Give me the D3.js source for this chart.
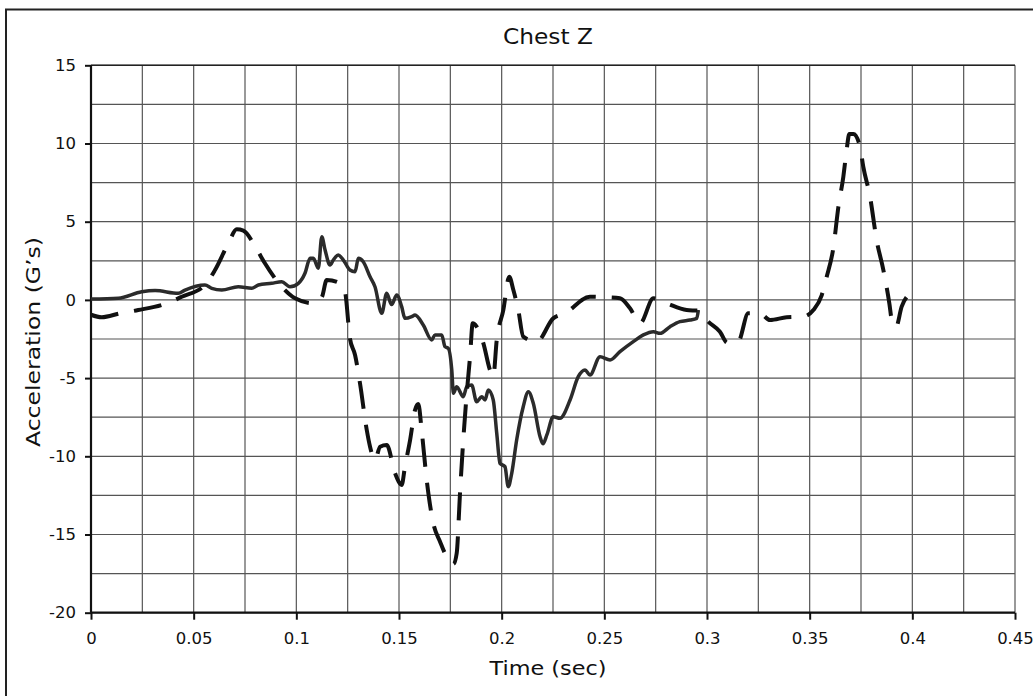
<!DOCTYPE html>
<html><head><meta charset="utf-8">
<script src="https://cdn.jsdelivr.net/npm/d3@7"></script>
<style>body{margin:0;background:#fff}svg{display:block}text{font-family:"DejaVu Sans",Arial,sans-serif;fill:#111}</style>
</head><body><svg id="c" width="1033" height="696"></svg>
<script>
const title = "Chest Z";
const xLabel = "Time (sec)";
const yLabel = "Acceleration (G\u2019s)";
const xTicks = [0,0.05,0.1,0.15,0.2,0.25,0.3,0.35,0.4,0.45];
const yTicks = [15,10,5,0,-5,-10,-15,-20];

const solidT = [0,0.0133,0.0247,0.0312,0.0425,0.0458,0.0555,0.0588,0.0637,0.0717,0.0783,0.0815,0.0880,0.0929,0.0969,0.1010,0.1042,0.1067,0.1083,0.1107,0.1124,0.1140,0.1164,0.1180,0.1204,0.1229,0.1261,0.1286,0.1302,0.1326,0.1359,0.1383,0.1416,0.1440,0.1464,0.1489,0.1513,0.1529,0.1562,0.1578,0.1618,0.1659,0.1675,0.1708,0.1724,0.1740,0.1757,0.1765,0.1781,0.1813,0.1830,0.1854,0.1878,0.1903,0.1919,0.1935,0.1959,0.1976,0.1992,0.2016,0.2032,0.2049,0.2073,0.2105,0.2130,0.2154,0.2187,0.2201,0.2221,0.2251,0.2284,0.2333,0.2373,0.2406,0.2430,0.2479,0.2528,0.2576,0.2641,0.2690,0.2739,0.2771,0.2820,0.2868,0.2917,0.2950,0.2958];
const solidG = [0.05,0.1,0.52,0.6,0.42,0.63,0.95,0.74,0.63,0.84,0.74,0.95,1.06,1.16,0.84,1.06,1.7,2.66,2.66,2.02,4.04,3.19,2.23,2.55,2.87,2.55,1.91,1.8,2.66,2.44,1.48,0.84,-0.86,0.42,-0.3,0.31,-0.43,-1.18,-1.07,-0.97,-1.6,-2.56,-2.24,-2.24,-2.99,-3.1,-4.48,-5.97,-5.55,-6.19,-5.55,-5.44,-6.51,-6.19,-6.4,-5.76,-6.4,-8.53,-10.45,-10.66,-11.94,-11.09,-8.96,-6.83,-5.87,-6.61,-8.75,-9.2,-8.6,-7.47,-7.57,-6.4,-4.91,-4.48,-4.8,-3.63,-3.84,-3.31,-2.67,-2.24,-2.03,-2.14,-1.71,-1.39,-1.29,-1.18,-0.65];

const dashT = [0,0.0052,0.0141,0.0230,0.0360,0.0442,0.0555,0.0604,0.0669,0.0710,0.0742,0.0807,0.0847,0.0929,0.0994,0.1083,0.1124,0.1148,0.1213,0.1237,0.1261,0.1286,0.1310,0.1343,0.1359,0.1383,0.1408,0.1440,0.1481,0.1513,0.1529,0.1554,0.1578,0.1594,0.1611,0.1635,0.1667,0.1700,0.1732,0.1765,0.1781,0.1797,0.1813,0.1830,0.1846,0.1859,0.1878,0.1911,0.1943,0.1959,0.1976,0.2008,0.2037,0.2057,0.2081,0.2105,0.2171,0.2251,0.2308,0.2430,0.2503,0.2576,0.2625,0.2674,0.2739,0.2804,0.2901,0.2958,0.3006,0.3063,0.3099,0.3152,0.3201,0.3258,0.3307,0.3388,0.3469,0.3518,0.3559,0.3583,0.3615,0.3640,0.3664,0.3680,0.3693,0.3713,0.3745,0.3761,0.3794,0.3826,0.3859,0.3888,0.3900,0.3921,0.3948,0.3997];
const dashG = [-0.95,-1.11,-0.86,-0.65,-0.26,0.2,0.95,1.91,3.62,4.51,4.43,3.23,2.34,0.84,0.1,-0.22,0.17,1.27,1.06,0.52,-2.46,-3.52,-5.33,-8.32,-9.39,-10.24,-9.39,-9.28,-11.09,-11.83,-10.66,-8.96,-7.04,-6.66,-8.43,-11.52,-14.28,-15.46,-16.42,-16.89,-16.2,-12.37,-8.96,-5.97,-3.63,-1.5,-1.71,-2.78,-4.48,-4.91,-2.56,-0.65,1.48,0.63,-0.65,-2.35,-2.67,-1.18,-0.86,0.2,0.17,0.1,-0.54,-1.5,0.1,-0.22,-0.65,-0.69,-1.39,-2.03,-2.74,-2.67,-0.86,-0.86,-1.29,-1.11,-1.07,-0.65,0.31,1.48,3.3,5.96,7.88,9.58,10.6,10.6,9.8,8.52,6.6,3.83,1.91,-0.22,-1.29,-1.71,-0.43,0.46];

const svg = d3.select("#c");
const L = 91, R = 1015, T = 65.3, B = 612.7;
const x = d3.scaleLinear().domain([0,0.45]).range([L,R]);
const y = d3.scaleLinear().domain([-20,15]).range([B,T]);

// frame
svg.append("rect").attr("x",6).attr("y",9.5).attr("width",1100).attr("height",800)
  .attr("fill","none").attr("stroke","#222").attr("stroke-width",2);

// grid
const g = svg.append("g");
g.selectAll(".vg").data(d3.range(0,19).map(i=>i*0.025)).join("line")
  .attr("x1",d=>x(d)).attr("x2",d=>x(d)).attr("y1",T).attr("y2",B)
  .attr("stroke","#555").attr("stroke-width",1.2);
g.selectAll(".hg").data(d3.range(0,15).map(i=>-20+i*2.5)).join("line")
  .attr("x1",L).attr("x2",R).attr("y1",d=>y(d)).attr("y2",d=>y(d))
  .attr("stroke","#555").attr("stroke-width",1.2);
svg.append("line").attr("x1",L).attr("x2",R).attr("y1",T).attr("y2",T).attr("stroke","#222").attr("stroke-width",1.5);

// axes
const xa = svg.append("g").attr("transform",`translate(0,${B})`)
  .call(d3.axisBottom(x).tickValues(xTicks).tickFormat(d=>String(+d.toFixed(2))).tickSize(7).tickPadding(13));
const ya = svg.append("g").attr("transform",`translate(${L},0)`)
  .call(d3.axisLeft(y).tickValues(yTicks).tickFormat(d=>String(d)).tickSize(6).tickPadding(9));
[xa,ya].forEach(a=>{
  a.attr("font-family",null).attr("font-size",null);
  a.select(".domain").attr("stroke","#111").attr("stroke-width",2.2);
  a.selectAll(".tick line").attr("stroke","#111").attr("stroke-width",2);
  a.selectAll("text").style("font-size","16.5px").attr("fill","#111").style("font-family","'DejaVu Sans',sans-serif");
});
xa.select(".domain").attr("d",`M${L},0H${R}`);
ya.select(".domain").attr("d",`M0,${T}V${B}`);

// lines
const lineGen = d3.line().x(d=>x(d[0])).y(d=>y(d[1])).curve(d3.curveMonotoneX);
svg.append("path").datum(solidT.map((t,i)=>[t,solidG[i]]))
  .attr("d",lineGen).attr("fill","none").attr("stroke","#2b2b2b").attr("stroke-width",3.5)
  .attr("stroke-linejoin","round");
svg.append("path").datum(dashT.map((t,i)=>[t,dashG[i]]))
  .attr("d",lineGen).attr("fill","none").attr("stroke","#111").attr("stroke-width",4)
  .attr("stroke-dasharray","28,16").attr("stroke-linejoin","round");

// labels
svg.append("text").attr("x",548).attr("y",44).attr("text-anchor","middle").style("font-size","22px")
  .attr("textLength",90).attr("lengthAdjust","spacingAndGlyphs").text(title);
svg.append("text").attr("x",548).attr("y",675).attr("text-anchor","middle").style("font-size","19.5px")
  .attr("textLength",117).attr("lengthAdjust","spacingAndGlyphs").text(xLabel);
svg.append("text").attr("transform","translate(40,342) rotate(-90)").attr("text-anchor","middle").style("font-size","19.5px")
  .attr("textLength",210).attr("lengthAdjust","spacingAndGlyphs").text(yLabel);
</script></body></html>
